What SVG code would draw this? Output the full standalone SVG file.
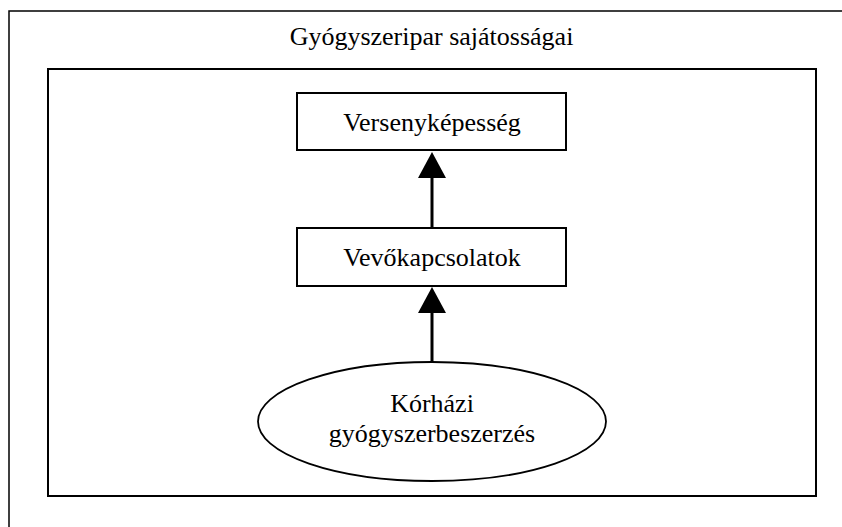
<svg xmlns="http://www.w3.org/2000/svg" width="842" height="527" viewBox="0 0 842 527">
<style>
.t{font-family:"Liberation Serif","Times New Roman",serif;font-size:26px;fill:#000;text-anchor:middle}
.box{fill:#fff;stroke:#000;stroke-width:2}
.conn{stroke:#000;stroke-width:3;fill:none}
.head{fill:#000;stroke:none}
</style>
<rect width="842" height="527" fill="#fff"/>
<g id="outer">
<rect x="9" y="11" width="845" height="530" fill="none" stroke="#000" stroke-width="1.5"/>
<text class="t" x="431.5" y="45">Gyógyszeripar sajátosságai</text>
</g>
<g id="inner">
<rect x="48" y="69" width="768" height="427" fill="none" stroke="#000" stroke-width="2"/>
</g>
<g id="connectors">
<line class="conn" x1="432" y1="228" x2="432" y2="176"/>
<polygon class="head" points="432,152 418,178 446,178"/>
<line class="conn" x1="432" y1="362" x2="432" y2="311"/>
<polygon class="head" points="432,287 418,313 446,313"/>
</g>
<g id="versenykepesseg">
<rect class="box" x="297" y="93" width="269" height="57"/>
<text class="t" x="432" y="131">Versenyképesség</text>
</g>
<g id="vevokapcsolatok">
<rect class="box" x="297" y="228" width="269" height="58"/>
<text class="t" x="432" y="266">Vevőkapcsolatok</text>
</g>
<g id="korhazi">
<ellipse cx="432" cy="421.5" rx="174" ry="59.5" fill="#fff" stroke="#000" stroke-width="1.8"/>
<text class="t" x="432" y="412">Kórházi</text>
<text class="t" x="432" y="442">gyógyszerbeszerzés</text>
</g>
</svg>
